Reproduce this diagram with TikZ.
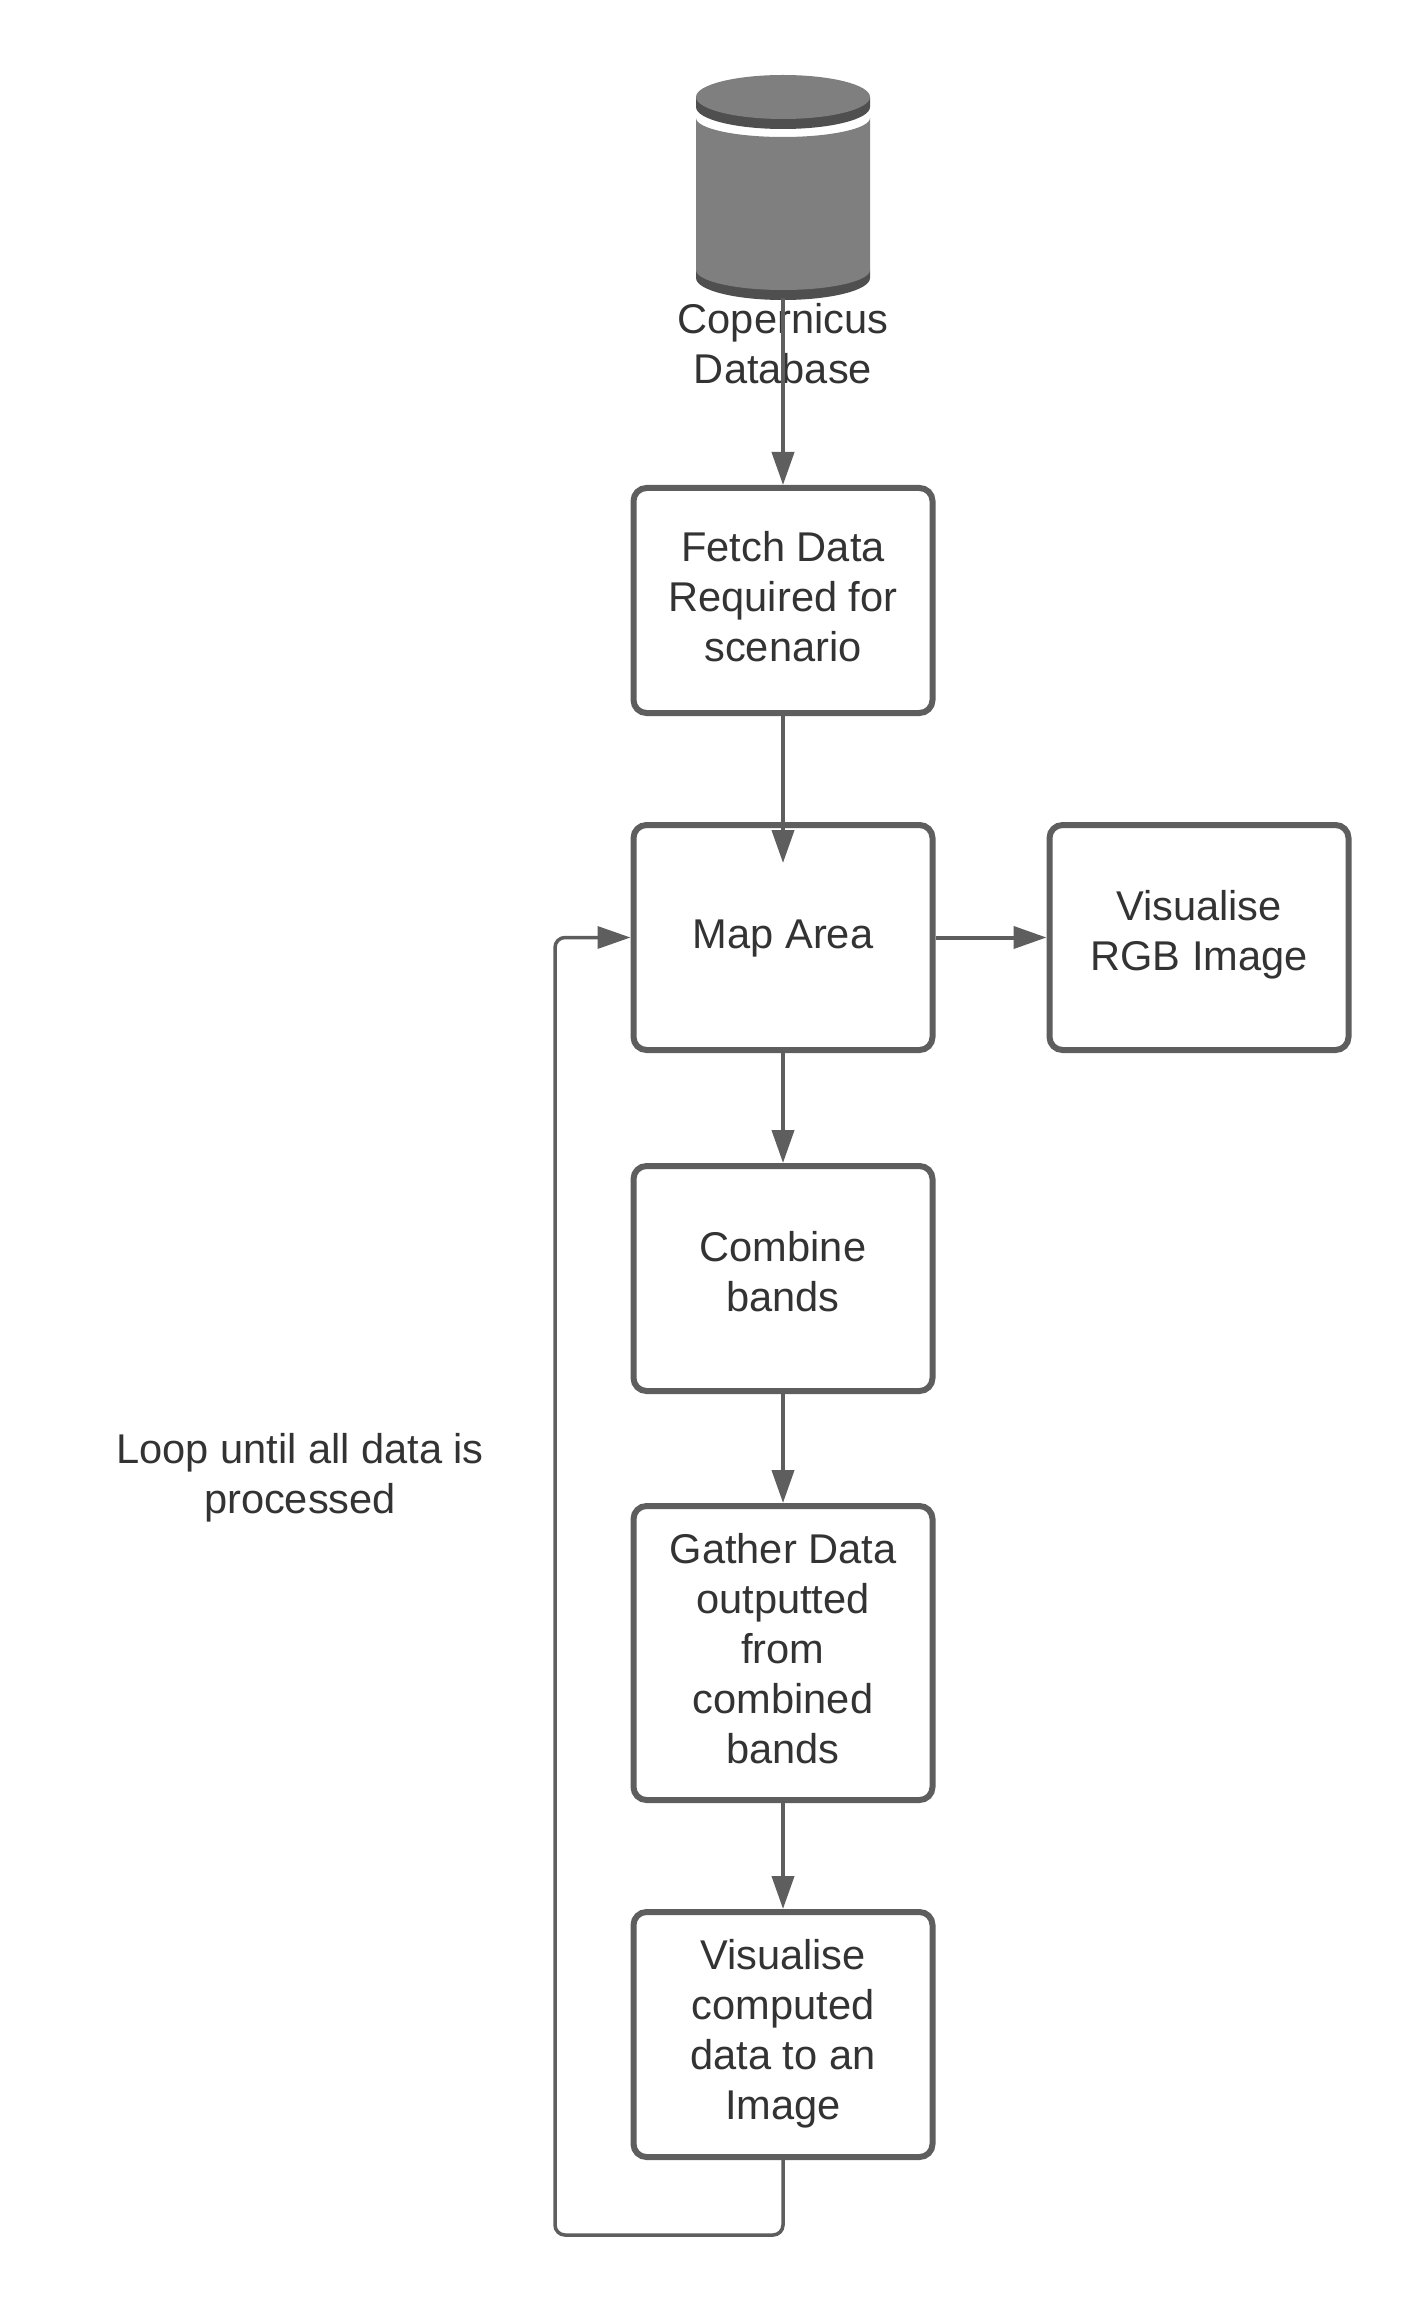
\documentclass[tikz,border=0pt]{standalone}
\usepackage{fontspec}
\setmainfont{Liberation Sans}
\usetikzlibrary{arrows.meta}
\definecolor{linegrey}{HTML}{5E5E5E}
\definecolor{textgrey}{HTML}{333333}
\definecolor{dbbody}{HTML}{7F7F7F}
\definecolor{dbdark}{HTML}{4F4F4F}
\newcommand\lines[2]{\raisebox{#1}[0pt][0pt]{\begin{tabular}{@{}c@{}}#2\end{tabular}}}
\tikzset{
  px/.style={x=0.5pt,y=-0.5pt},
  flowbox/.style={draw=linegrey,line width=3pt,rounded corners=6.5pt,fill=white,minimum width=149.5pt,minimum height=112.5pt,inner sep=0pt,text=textgrey,font=\fontsize{20.8}{25}\selectfont,anchor=north west},
  plaintext/.style={inner sep=0pt,text=textgrey,align=center,font=\fontsize{20.8}{25}\selectfont},
  flow/.style={draw=linegrey,line width=2pt,-{Triangle[length=16.5pt,width=11pt]}},
  loopline/.style={draw=linegrey,line width=1.75pt,rounded corners=5pt,-{Triangle[length=16.5pt,width=11pt]}}
}
\begin{document}
\begin{tikzpicture}[px]
\useasboundingbox (0,0) rectangle (1425,2310);
% database cylinder
\fill[dbdark] (696,97) -- (696,107) arc[start angle=180,end angle=0,x radius=87,y radius=22] -- (870,97) -- cycle;
\fill[dbbody] (783,97) ellipse[x radius=87,y radius=22];
\fill[dbdark] (696,270) -- (696,278) arc[start angle=180,end angle=0,x radius=87,y radius=22] -- (870,270) -- cycle;
\fill[dbbody] (696,118) arc[start angle=180,end angle=0,x radius=87,y radius=19] -- (870,270) arc[start angle=0,end angle=180,x radius=87,y radius=20] -- cycle;
\coordinate (dbbottom) at (783,298);
\node[plaintext] (dblabel) at (783,344) {Copernicus\\Database};
% boxes
\node[flowbox] (fetch) at (630.5,485) {\lines{-5.7pt}{Fetch Data\\Required for\\scenario}};
\node[flowbox] (map) at (630.5,822) {\lines{-5.7pt}{Map Area}};
\node[flowbox] (rgb) at (1046.5,822) {\lines{-4.3pt}{Visualise\\RGB Image}};
\node[flowbox] (combine) at (630.5,1163) {\lines{-4.3pt}{Combine\\bands}};
\node[flowbox,minimum height=147pt] (gather) at (630.5,1503) {\lines{-5.3pt}{Gather Data\\outputted\\from\\combined\\bands}};
\node[flowbox,minimum height=122.5pt] (visual) at (630.5,1909) {\lines{-5pt}{Visualise\\computed\\data to an\\Image}};
\node[plaintext] (looptext) at (300,1478) {Loop until all data is\\processed};
% connectors
\draw[flow] (dbbottom) -- (fetch.north);
\draw[flow,shorten >=-20.5pt] (fetch.south) -- (map.north);
\draw[flow] (map.east) -- (rgb.west);
\draw[flow] (map.south) -- (combine.north);
\draw[flow] (combine.south) -- (gather.north);
\draw[flow] (gather.south) -- (visual.north);
\coordinate (loopbl) at (555,2235);
\draw[loopline] (visual.south) |- (loopbl) |- (map.west);
\end{tikzpicture}
\end{document}
